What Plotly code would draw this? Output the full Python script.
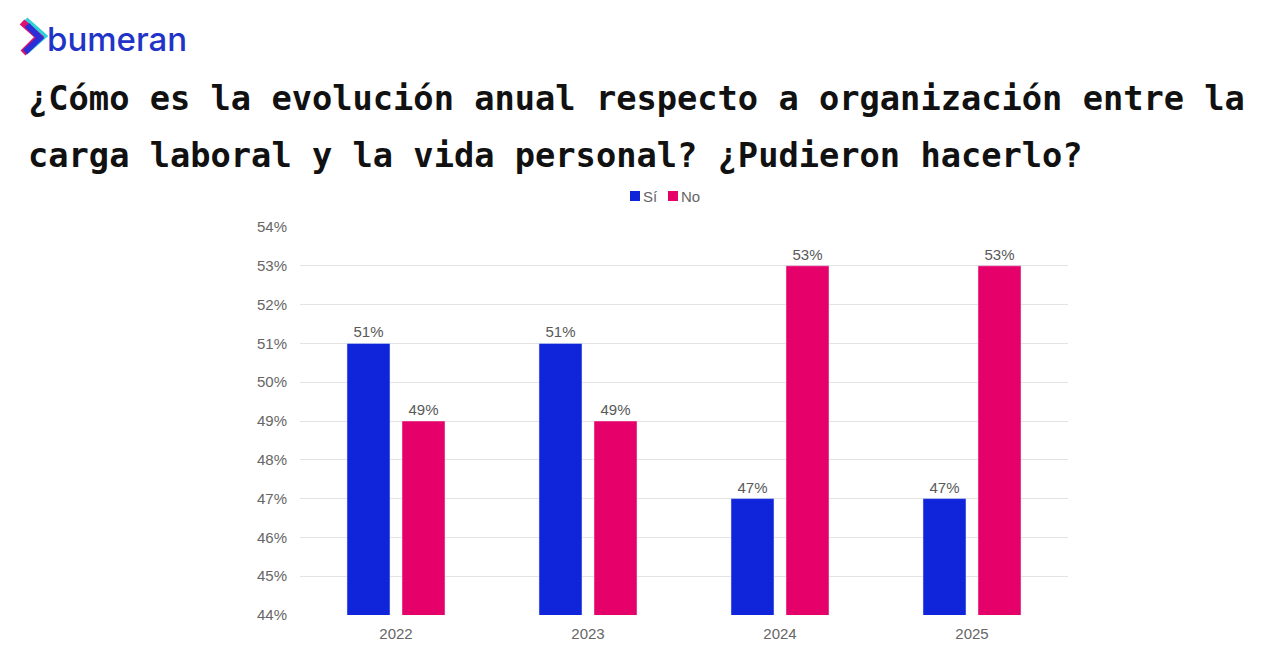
import plotly.graph_objects as go

years = ["2022", "2023", "2024", "2025"]
series_names = ["Sí", "No"]
si_vals = [51, 51, 47, 47]
no_vals = [49, 49, 53, 53]
y_ticks = [44, 45, 46, 47, 48, 49, 50, 51, 52, 53, 54]
y_tick_labels = [f"{v}%" for v in y_ticks]
title_lines = ["¿Cómo es la evolución anual respecto a organización entre la",
               "carga laboral y la vida personal? ¿Pudieron hacerlo?"]
colors = ["#1024d9", "#e6006a"]

OFF = 8  # page body margin
W, H = 1280 - OFF, 653 - OFF
L, R, T, B = 300 - OFF, 1068 - OFF, 227 - OFF, 615 - OFF

def px(x):
    return (x - OFF - L) / (R - L)

def py(y):
    return (B - (y - OFF)) / (B - T)

fig = go.Figure()
for name, vals, col in zip(series_names, [si_vals, no_vals], colors):
    fig.add_trace(go.Bar(name=name, x=years, y=vals, marker_color=col,
                         text=[f"{v}%" for v in vals], textposition="outside",
                         textfont=dict(color="#595959", size=15), cliponaxis=False))

annotations = []
for i, line in enumerate(title_lines):
    annotations.append(dict(text=f"<b>{line}</b>", x=px(26), y=py(98 + i * 57), xref="paper", yref="paper",
                            xanchor="left", yanchor="middle", showarrow=False,
                            font=dict(family="DejaVu Sans Mono", size=33.7, color="#111111")))
annotations.append(dict(text="bumeran", x=px(45), y=py(39), xref="paper", yref="paper",
                        xanchor="left", yanchor="middle", showarrow=False,
                        font=dict(family="Inter", size=33, color="#2233c8", weight=500)))

shapes = [
    dict(type="path", xref="paper", yref="paper",
         path=f"M {px(25)},{py(20)} L {px(43)},{py(36)} L {px(25)},{py(52)}",
         line=dict(color="#2fd0d8", width=7)),
    dict(type="path", xref="paper", yref="paper",
         path=f"M {px(22)},{py(22)} L {px(39)},{py(37)} L {px(23)},{py(53)}",
         line=dict(color="#e0106e", width=7)),
    dict(type="path", xref="paper", yref="paper",
         path=f"M {px(27)},{py(25)} L {px(40)},{py(38)} L {px(25)},{py(52)}",
         line=dict(color="#2a2fd8", width=6)),
]

# custom compact legend
leg_x = [630, 668]
for name, col, x0 in zip(series_names, colors, leg_x):
    shapes.append(dict(type="rect", xref="paper", yref="paper",
                       x0=px(x0), x1=px(x0 + 10), y0=py(201), y1=py(191),
                       fillcolor=col, line=dict(width=0)))
    annotations.append(dict(text=name, x=px(x0 + 11), y=py(196), xref="paper", yref="paper",
                            xanchor="left", yanchor="middle", showarrow=False,
                            font=dict(size=15, color="#666666")))

fig.update_layout(
    width=W, height=H,
    margin=dict(l=L, r=W - R, t=T, b=H - B),
    plot_bgcolor="white", paper_bgcolor="white",
    barmode="group", bargap=0.427, bargroupgap=0.218,
    font=dict(family="Liberation Sans, Arial", color="#666666", size=15),
    showlegend=False,
    xaxis=dict(showgrid=False, showline=False, ticks="", tickfont=dict(size=15, color="#666666"),
               ticklabelstandoff=8),
    yaxis=dict(range=[44, 54], tickvals=y_ticks, ticktext=y_tick_labels, showgrid=True,
               gridcolor="#e3e3e3", gridwidth=1, zeroline=False, showline=False,
               tickfont=dict(size=15, color="#666666"), ticklabelstandoff=12),
    annotations=annotations,
    shapes=shapes,
)

fig.write_html("out.html")
